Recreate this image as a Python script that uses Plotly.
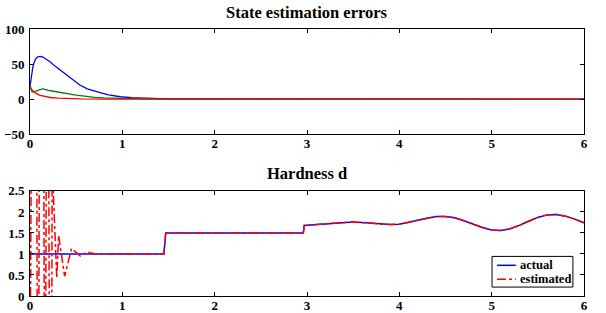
import plotly.graph_objects as go
from plotly.subplots import make_subplots

# ---- State estimation errors (top) ----
blue_t = [0, 0.01, 0.02, 0.03, 0.04, 0.06, 0.08, 0.11, 0.14, 0.18, 0.22, 0.27, 0.33, 0.40,
          0.47, 0.54, 0.62, 0.70, 0.76, 0.85, 0.98, 1.10, 1.30, 1.50, 1.80, 2.20, 6.0]
blue_v = [18, 29, 38, 45, 50, 57, 60, 61, 60, 57, 53, 47, 41, 33,
          26, 20, 14.5, 11, 9, 6, 3.3, 2, 0.8, 0.3, 0.1, 0, 0]

green_t = [0, 0.01, 0.02, 0.03, 0.05, 0.07, 0.09, 0.11, 0.13, 0.14, 0.15, 0.17, 0.20, 0.24,
           0.28, 0.32, 0.36, 0.40, 0.45, 0.50, 0.55, 0.60, 0.70, 0.80, 0.90, 1.00, 1.20, 1.50, 6.0]
green_v = [18, 14, 11, 10, 11, 12.5, 13, 13.5, 14, 14.8, 14, 13, 12.5, 11.5,
           10.8, 9.8, 9.0, 8.0, 6.8, 5.5, 4.5, 3.6, 2.4, 1.6, 1.0, 0.6, 0.2, 0.05, 0]

red_t = [0, 0.01, 0.02, 0.04, 0.06, 0.08, 0.11, 0.15, 0.22, 0.30, 0.40, 0.55, 0.80, 6.0]
red_v = [18, 15.5, 13.5, 10.5, 8.5, 7, 5.2, 3.8, 2.2, 1.2, 0.6, 0.2, 0, 0]

# ---- Hardness d (bottom) ----
act_t = [0, 1.45, 1.47, 2.96, 2.97, 3.1, 3.2, 3.3, 3.4, 3.5, 3.6, 3.7, 3.8, 3.9, 4.0,
         4.1, 4.2, 4.3, 4.4, 4.5, 4.6, 4.7, 4.8, 4.9, 5.0, 5.1, 5.2, 5.3, 5.4, 5.5,
         5.6, 5.7, 5.8, 5.9, 6.0]
act_v = [1.0, 1.0, 1.5, 1.5, 1.68, 1.70, 1.72, 1.74, 1.75, 1.76, 1.75, 1.73, 1.71, 1.70, 1.71,
         1.75, 1.80, 1.85, 1.89, 1.89, 1.86, 1.79, 1.71, 1.63, 1.57, 1.56, 1.60, 1.68, 1.78, 1.87,
         1.93, 1.94, 1.90, 1.83, 1.74]

# estimated transient (values beyond the axis range are clipped)
est0_t = [0, 0.008, 0.012, 0.074, 0.078, 0.096, 0.100, 0.150, 0.154, 0.171, 0.175,
          0.204, 0.208, 0.236, 0.240, 0.250, 0.29, 0.31, 0.375, 0.45, 0.545, 0.62, 0.70]
est0_v = [-3.0, -0.3, 2.8, 2.8, -0.3, -0.3, 2.8, 2.8, -0.3, -0.3, 2.8,
          2.8, -0.3, -0.3, 2.8, 2.6, 0.42, 1.44, 0.47, 1.13, 0.95, 1.05, 1.0]

est_t = est0_t + [t for t in act_t if t > est0_t[-1]]
est_v = est0_v + [v for t, v in zip(act_t, act_v) if t > est0_t[-1]]

legend_names = ["actual", "estimated"]

FONT = "Liberation Serif, Times New Roman, Times, serif"
BLUE, GREEN, RED = "#0000ff", "#008000", "#ff0000"

fig = make_subplots(rows=2, cols=1, vertical_spacing=0.213)

fig.add_trace(go.Scatter(x=blue_t, y=blue_v, mode="lines", line=dict(color=BLUE, width=1.3),
                         showlegend=False), row=1, col=1)
fig.add_trace(go.Scatter(x=green_t, y=green_v, mode="lines", line=dict(color=GREEN, width=1.3),
                         showlegend=False), row=1, col=1)
fig.add_trace(go.Scatter(x=red_t, y=red_v, mode="lines", line=dict(color=RED, width=1.3),
                         showlegend=False), row=1, col=1)

fig.add_trace(go.Scatter(x=act_t, y=act_v, mode="lines", name=legend_names[0],
                         line=dict(color=BLUE, width=1.5), showlegend=False), row=2, col=1)
fig.add_trace(go.Scatter(x=est_t, y=est_v, mode="lines", name=legend_names[1],
                         line=dict(color=RED, width=1.5, dash="dashdot"), showlegend=False), row=2, col=1)

axis_common = dict(showline=True, linecolor="black", linewidth=1, mirror="ticks",
                   ticks="inside", ticklen=4, tickcolor="black", showgrid=False, zeroline=False,
                   automargin=False,
                   tickfont=dict(family=FONT, size=13, color="black", weight="bold"))

fig.update_xaxes(range=[0, 6], tickvals=[0, 1, 2, 3, 4, 5, 6], ticktext=["0", "1", "2", "3", "4", "5", "6"],
                 ticklabelstandoff=-3, **axis_common)
fig.update_yaxes(range=[-50, 100], tickvals=[-50, 0, 50, 100], ticktext=["\u221250", "0", "50", "100"],
                 ticklabelstandoff=2, row=1, col=1, **axis_common)
fig.update_yaxes(range=[0, 2.5], tickvals=[0, 0.5, 1, 1.5, 2, 2.5],
                 ticktext=["0", "0.5", "1", "1.5", "2", "2.5"], ticklabelstandoff=2, row=2, col=1, **axis_common)

# legend box for the lower panel (drawn in its axis-domain coordinates)
LX0, LX1, LY0, LY1 = 0.834, 0.980, 0.085, 0.377
fig.add_shape(type="rect", xref="x2 domain", yref="y2 domain", x0=LX0, x1=LX1, y0=LY0, y1=LY1,
              line=dict(color="black", width=1), fillcolor="white", layer="above")
legend_styles = [dict(color=BLUE, width=1.5), dict(color=RED, width=1.5, dash="dashdot")]
legend_rows = [0.292, 0.160]
for name, style, yy in zip(legend_names, legend_styles, legend_rows):
    fig.add_shape(type="line", xref="x2 domain", yref="y2 domain", x0=0.843, x1=0.877, y0=yy, y1=yy,
                  line=style, layer="above")
    fig.add_annotation(text=name, xref="x2 domain", yref="y2 domain", x=0.880, y=yy,
                       xanchor="left", yanchor="middle", showarrow=False,
                       font=dict(family=FONT, size=12.5, color="black", weight="bold"))

fig.update_layout(
    width=606, height=313,
    margin=dict(l=30, r=22, t=29, b=17),
    plot_bgcolor="white", paper_bgcolor="white",
    showlegend=False,
)
fig.add_annotation(text="State estimation errors", x=0.5, y=1.0, xref="paper", yref="paper",
                   xanchor="center", yanchor="bottom", yshift=5, showarrow=False,
                   font=dict(family=FONT, size=16.5, color="black", weight="bold"))
fig.add_annotation(text="Hardness d", x=0.5, y=0.397, xref="paper", yref="paper",
                   xanchor="center", yanchor="bottom", yshift=5, showarrow=False,
                   font=dict(family=FONT, size=16.5, color="black", weight="bold"))

fig.write_html("out.html", config={"displayModeBar": False},
               post_script="document.body.style.margin='0';document.body.style.overflow='hidden';")
